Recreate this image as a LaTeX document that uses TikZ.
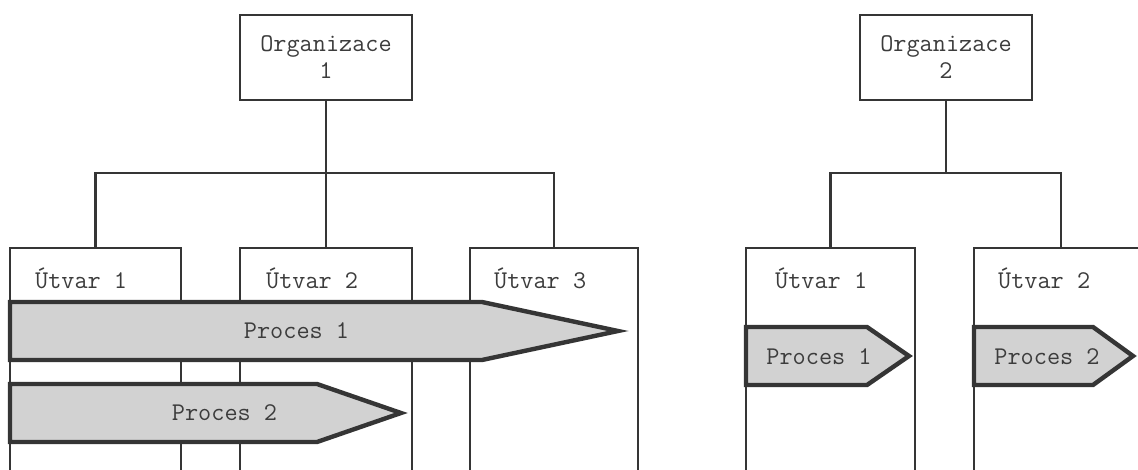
\documentclass[tikz,border=0pt]{standalone}
\usepackage{fontspec}
\definecolor{ink}{HTML}{353535}
\definecolor{txt}{HTML}{3C3C3C}
\definecolor{procfill}{HTML}{D2D2D2}
\tikzset{
  lbl/.style={font=\ttfamily\fontsize{25.5}{27}\selectfont, text=txt, inner sep=0pt},
  orgbox/.style={draw=ink, line width=2.8pt, fill=white, outer sep=0pt, inner sep=0pt,
    minimum width=172pt, minimum height=85pt, align=center,
    font=\ttfamily\fontsize{25.5}{27}\selectfont, text=txt},
  ubox/.style={draw=ink, line width=2.8pt, fill=white, outer sep=0pt, inner sep=0pt,
    minimum height=260pt, anchor=north west},
  link/.style={draw=ink, line width=2.8pt},
  procarrow/.style={draw=ink, fill=procfill, line width=4.4pt, line join=miter},
}
\begin{document}
\begin{tikzpicture}[x=1pt,y=-1pt]
\useasboundingbox (0,0) rectangle (1138,470);
\clip (0,0) rectangle (1138,470);

% ---- organisation 1 ----
\node[orgbox] (o1) at (326,57.5) {Organizace\\1};
\node[ubox, minimum width=171pt] (a1) at (10,248) {};
\node[ubox, minimum width=172pt] (a2) at (240,248) {};
\node[ubox, minimum width=168pt] (a3) at (470,248) {};
\node[lbl, anchor=west] (ta1) at (35,278) {Útvar 1};
\node[lbl, anchor=west] (ta2) at (266,278) {Útvar 2};
\node[lbl, anchor=west] (ta3) at (494,278) {Útvar 3};

\coordinate (j1) at (326,173);
\draw[link] (o1.south) -- (j1);
\draw[link] (j1) -| (a1.north);
\draw[link] (j1) -- (a2.north);
\draw[link] (j1) -| (a3.north);

% processes crossing the departments
\draw[procarrow] (10,302) -- (482,302) -- (618,331) -- (482,360) -- (10,360) -- cycle;
\draw[procarrow] (10,384) -- (317,384) -- (401,413) -- (317,442) -- (10,442) -- cycle;
\node[lbl] (p1) at (296.5,331) {Proces 1};
\node[lbl] (p2) at (224.5,413) {Proces 2};

% ---- organisation 2 ----
\node[orgbox] (o2) at (946,57.5) {Organizace\\2};
\node[ubox, minimum width=169pt] (b1) at (746,248) {};
\node[ubox, minimum width=174pt] (b2) at (974,248) {};
\node[lbl, anchor=west] (tb1) at (775,278) {Útvar 1};
\node[lbl, anchor=west] (tb2) at (998,278) {Útvar 2};

\coordinate (j2) at (946,173);
\draw[link] (o2.south) -- (j2);
\draw[link] (j2) -| (b1.north);
\draw[link] (j2) -| (b2.north);

% processes inside a single department
\draw[procarrow] (746,327) -- (867,327) -- (909,356) -- (867,385) -- (746,385) -- cycle;
\draw[procarrow] (974,327) -- (1093,327) -- (1133,356) -- (1093,385) -- (974,385) -- cycle;
\node[lbl] (q1) at (819,357) {Proces 1};
\node[lbl] (q2) at (1047,357) {Proces 2};
\end{tikzpicture}
\end{document}
